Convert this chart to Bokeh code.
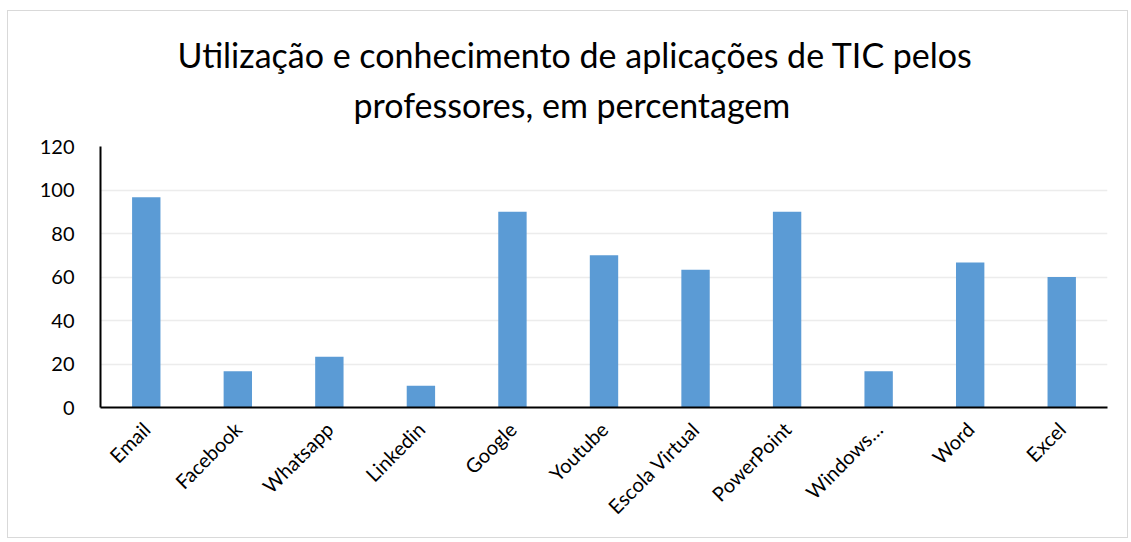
import math
from bokeh.plotting import figure
from bokeh.models import Title, ColumnDataSource, SingleIntervalTicker
from bokeh.embed import file_html
from bokeh.resources import INLINE

categories = ["Email", "Facebook", "Whatsapp", "Linkedin", "Google", "Youtube",
              "Escola Virtual", "PowerPoint", "Windows…", "Word", "Excel"]
values = [96.7, 16.7, 23.3, 10.0, 90.0, 70.0, 63.3, 90.0, 16.7, 66.7, 60.0]
title_lines = ["Utilização e conhecimento de aplicações de TIC pelos",
               "professores, em percentagem"]

FONT = "Lato"
src = ColumnDataSource(dict(cat=categories, val=values))

p = figure(x_range=categories, y_range=(0, 120), width=1121, height=528,
           output_backend="svg", toolbar_location=None,
           min_border_left=92, min_border_right=22, min_border_bottom=132,
           min_border_top=135)
p.styles = {"border": "1px solid #d9d9d9", "margin-left": "7px", "margin-top": "10px"}
p.title = None

p.vbar(x="cat", top="val", width=0.31, source=src, color="#5B9BD5", line_color=None)

t2 = Title(text=title_lines[1], align="left", text_font=FONT, text_font_size="34px",
           text_font_style="normal", text_color="#000000", standoff=44, offset=253)
t1 = Title(text=title_lines[0], align="left", text_font=FONT, text_font_size="34px",
           text_font_style="normal", text_color="#000000", standoff=-30, offset=77)
p.add_layout(t2, "above")
p.add_layout(t1, "above")

p.outline_line_color = None
p.xgrid.grid_line_color = None
p.ygrid.grid_line_color = "#ececec"
p.ygrid.grid_line_width = 1.5
p.yaxis.ticker = SingleIntervalTicker(interval=20)

for ax in (p.xaxis, p.yaxis):
    ax.axis_line_color = "black"
    ax.axis_line_width = 2
    ax.major_tick_line_color = None
    ax.minor_tick_line_color = None
    ax.major_label_text_font = FONT
    ax.major_label_text_font_size = "20px"
    ax.major_label_text_color = "#000000"

p.yaxis.major_label_standoff = 20
p.xaxis.major_label_orientation = math.pi / 4
p.xaxis.major_label_standoff = 12

open("out.html", "w").write(file_html(p, INLINE))
